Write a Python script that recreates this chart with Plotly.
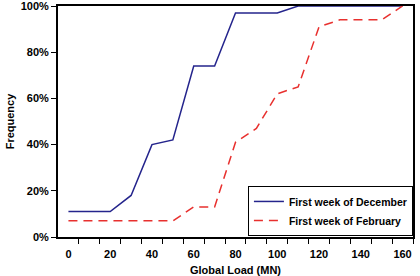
import plotly.graph_objects as go

load_mn = [0, 10, 20, 30, 40, 50, 60, 70, 80, 90, 100, 110, 120, 130, 140, 150, 160]
december = [11, 11, 11, 18, 40, 42, 74, 74, 97, 97, 97, 100, 100, 100, 100, 100, 100]
february = [7, 7, 7, 7, 7, 7, 13, 13, 41, 47, 62, 65, 91, 94, 94, 94, 100]
x_labels = [0, 20, 40, 60, 80, 100, 120, 140, 160]
y_ticks = [0, 20, 40, 60, 80, 100]

font = dict(family="Liberation Sans, Arial, sans-serif", size=11, color="black")

fig = go.Figure()
fig.add_trace(go.Scatter(x=load_mn, y=[v / 100 for v in december], mode="lines",
                         name="First week of December",
                         line=dict(color="#24248c", width=1.5)))
fig.add_trace(go.Scatter(x=load_mn, y=[v / 100 for v in february], mode="lines",
                         name="First week of February",
                         line=dict(color="#e8302e", width=1.5, dash="9px,6px")))

fig.update_layout(
    width=420, height=276,
    margin=dict(l=58, r=7, t=6, b=39),
    paper_bgcolor="white", plot_bgcolor="white",
    font=font,
    showlegend=True,
    legend=dict(x=0.535, y=0.221, xanchor="left", yanchor="top",
                bgcolor="white", bordercolor="black", borderwidth=1,
                font=dict(family="Liberation Sans, Arial, sans-serif", size=10.5, color="black", weight="bold"),
                tracegroupgap=0, itemwidth=30),
    xaxis=dict(range=[-5, 165], tickmode="array", tickvals=x_labels,
               ticktext=[f"<b>{v}</b>" for v in x_labels], automargin=False,
               ticks="", showgrid=False, zeroline=False, ticklabelstandoff=6,
               showline=True, linecolor="black", linewidth=2, mirror=True,
               minor=dict(tickvals=[5 + 10 * i for i in range(17)], ticks="outside",
                          ticklen=5, tickcolor="black", tickwidth=1, showgrid=False),
               title=dict(text="<b>Global Load (MN)</b>", standoff=9, font=font)),
    yaxis=dict(range=[0, 1], tickmode="array", tickvals=[v / 100 for v in y_ticks],
               ticktext=[f"<b>{v}%</b>" for v in y_ticks], ticklabeloverflow="allow",
               automargin=False,
               ticks="outside", ticklen=5, tickcolor="black", showgrid=False, zeroline=False,
               showline=True, linecolor="black", linewidth=2, mirror=True,
               title=dict(text="<b>Frequency</b>", standoff=4, font=font)),
)

fig.write_html("out.html")
